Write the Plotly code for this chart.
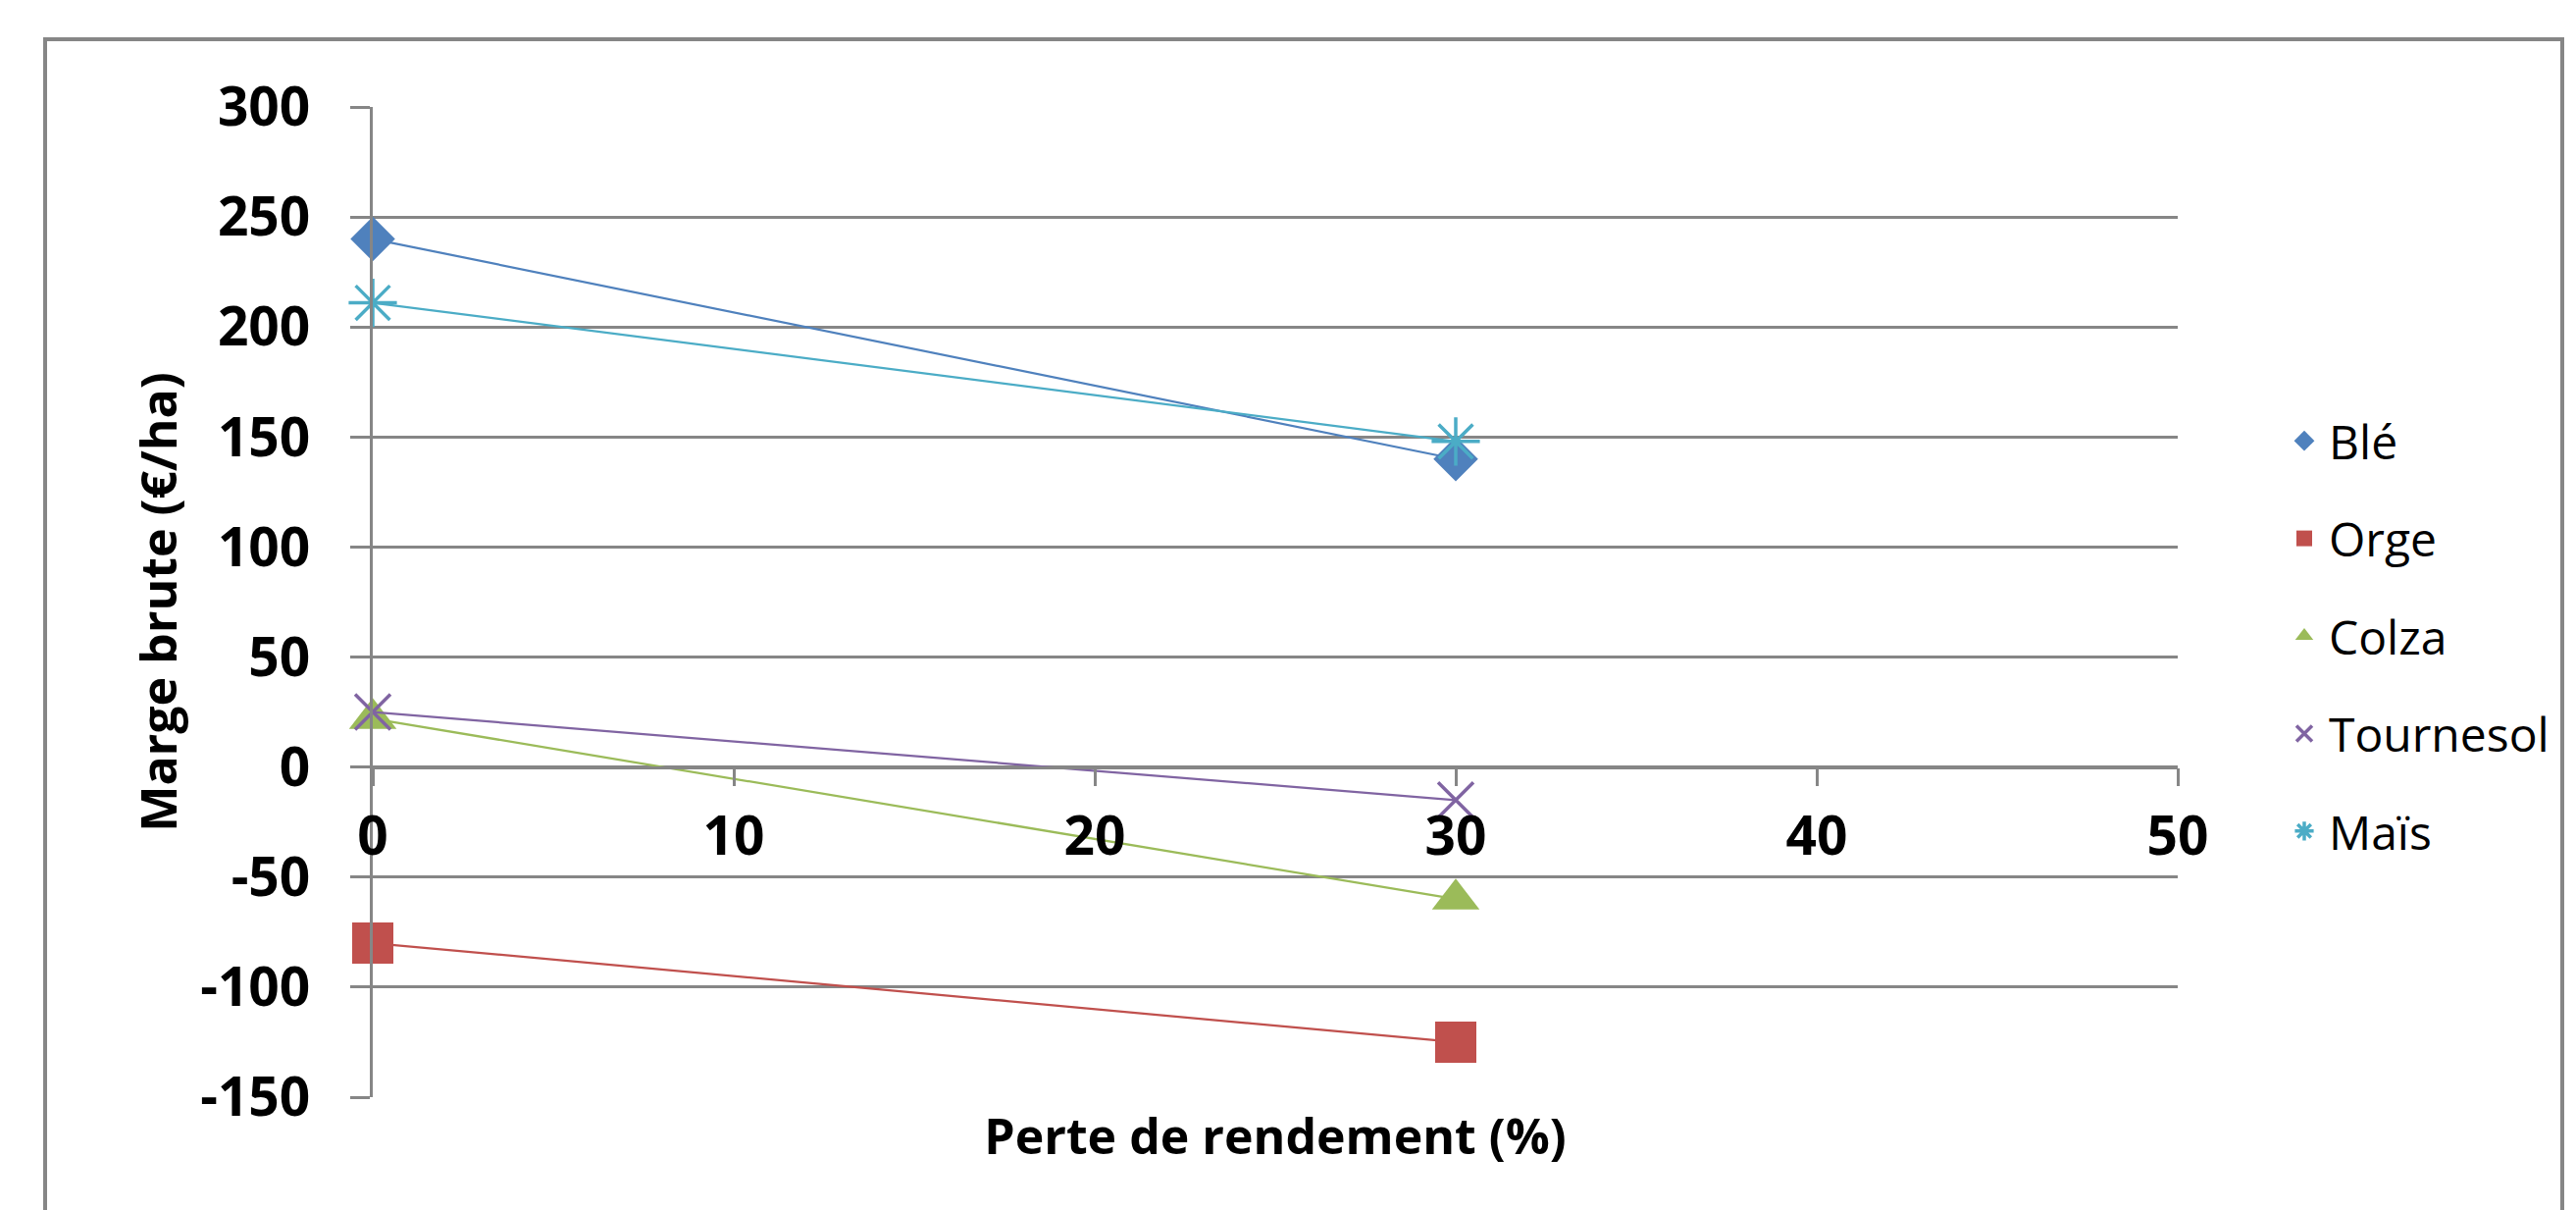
import plotly.graph_objects as go

# ---- data ----
x_perte = [0, 30]
series_names = ["Blé", "Orge", "Colza", "Tournesol", "Maïs"]
ble = [240, 140]
orge = [-80, -125]
colza = [22, -60]
tournesol = [25, -15]
mais = [211, 148]
y_ticks = [-150, -100, -50, 0, 50, 100, 150, 200, 250, 300]
x_ticks = [0, 10, 20, 30, 40, 50]
x_range = [0, 50]
y_range = [-150, 300]

values = [ble, orge, colza, tournesol, mais]
colors = ["#4F81BD", "#C0504D", "#9BBB59", "#8064A2", "#4BACC6"]
markers = [
    dict(symbol="diamond", size=35),
    dict(symbol="square", size=42),
    dict(symbol="triangle-up", size=42),
    dict(symbol="x-thin-open", size=36),
    dict(symbol="asterisk-open", size=41),
]

W, H = 2626, 1233
ML, MR, MT, MB = 372, 414, 101, 123
PW = W - ML - MR
PH = H - MT - MB
FONT = "Open Sans, Noto Sans, sans-serif"
GRAY = "#868686"

fig = go.Figure()
for name, vals, col, mk in zip(series_names, values, colors, markers):
    fig.add_trace(go.Scatter(
        x=x_perte, y=vals, mode="lines", name=name, legendgroup=name,
        showlegend=False, line=dict(color=col, width=2.25), hoverinfo="skip",
        cliponaxis=False))
    m = dict(mk)
    m["color"] = col
    m["line"] = dict(color=col, width=3.5 if "open" in mk["symbol"] else 0)
    fig.add_trace(go.Scatter(
        x=x_perte, y=vals, mode="markers", name=name, legendgroup=name,
        showlegend=True, marker=m, cliponaxis=False))

zero_pos = (0 - y_range[0]) / (y_range[1] - y_range[0])

fig.update_layout(
    width=W, height=H,
    margin=dict(l=ML, r=MR, t=MT, b=MB, autoexpand=False),
    paper_bgcolor="white", plot_bgcolor="white",
    font=dict(family=FONT, color="black"),
    xaxis=dict(
        range=x_range, tickvals=x_ticks, ticktext=[str(v) for v in x_ticks],
        anchor="free", position=zero_pos,
        showgrid=False, zeroline=False,
        showline=True, linecolor=GRAY, linewidth=2.5,
        ticks="outside", ticklen=18, tickwidth=2.5, tickcolor=GRAY,
        ticklabelstandoff=4,
        tickfont=dict(family=FONT, size=55, weight="bold"),
        title=dict(text="Perte de rendement (%)", standoff=254,
                   font=dict(family=FONT, size=50, weight="bold")),
    ),
    yaxis=dict(
        range=y_range, tickvals=y_ticks, ticktext=[str(v) for v in y_ticks],
        showgrid=True, gridcolor=GRAY, gridwidth=2.5, zeroline=False,
        showline=True, linecolor=GRAY, linewidth=2.5,
        ticks="outside", ticklen=20, tickwidth=2.5, tickcolor=GRAY,
        ticklabelstandoff=30,
        tickfont=dict(family=FONT, size=55, weight="bold"),
        title=dict(text="Marge brute (€/ha)", standoff=8,
                   font=dict(family=FONT, size=50, weight="bold")),
    ),
    legend=dict(
        xref="container", yref="container",
        x=2316 / W, y=1 - 640 / H, xanchor="left", yanchor="middle",
        font=dict(family=FONT, size=48, color="black"),
        tracegroupgap=34, itemwidth=40, borderwidth=0,
        bgcolor="rgba(0,0,0,0)",
    ),
    showlegend=True,
)

# outer chart border (Excel chart area)
bx0, bx1, by0, by1 = 38, 2604, 32, 1320
fig.add_shape(
    type="rect", xref="paper", yref="paper",
    x0=(bx0 - ML) / PW, x1=(bx1 - ML) / PW,
    y0=(H - MB - by1) / PH, y1=(H - MB - by0) / PH,
    line=dict(color=GRAY, width=4), fillcolor="rgba(0,0,0,0)", layer="below")

fig.write_html("out.html")
